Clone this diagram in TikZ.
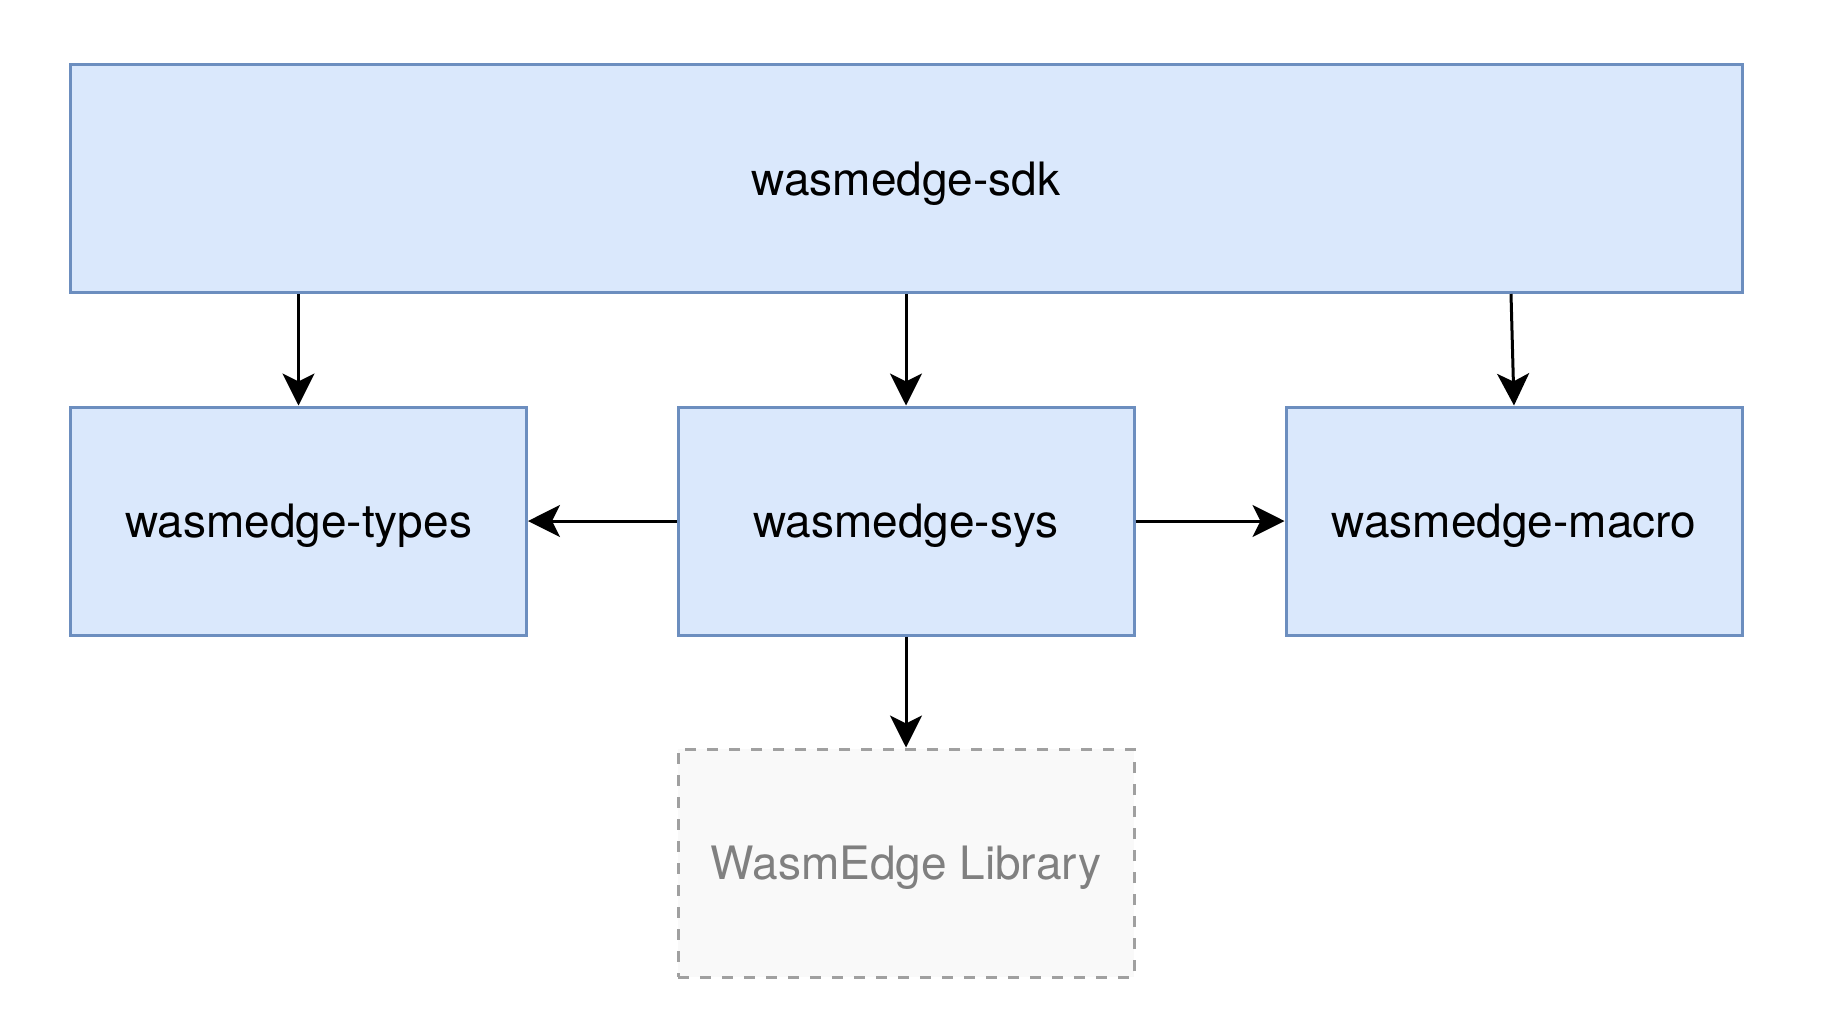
\documentclass[tikz,border=0pt]{standalone}
\usepackage{fontspec}
\setmainfont{TeX Gyre Heros}
\usepackage{xcolor}
\usepackage{tikz}
\usetikzlibrary{arrows.meta, positioning}

\definecolor{crateedge}{HTML}{6C8EBF}
\definecolor{cratefill}{HTML}{DAE8FC}
\definecolor{libedge}{HTML}{A0A0A0}
\definecolor{libfill}{HTML}{F9F9F9}
\definecolor{libtext}{HTML}{808080}

\begin{document}
\begin{tikzpicture}[
            x=0.5pt, y=-0.5pt,
            every node/.style={inner sep=0pt, text height=16.6pt, text depth=0pt,
                font=\fontsize{23}{27}\selectfont},
            cratebox/.style={draw=crateedge, fill=cratefill, line width=1.5pt,
                minimum width=228pt, minimum height=114pt},
            libbox/.style={draw=libedge, fill=libfill, text=libtext, line width=1.5pt,
                dash pattern=on 5.5pt off 5.5pt, minimum width=228pt, minimum height=114pt},
            dep/.style={-{Stealth[length=16pt, width=16pt, inset=4pt]}, line width=1.5pt},
        ]
        \useasboundingbox (0,0) rectangle (1826,1030);
        \node (sdk) at (906,178.5) [cratebox, minimum width=836pt] {wasmedge-sdk};
        \node (types) at (298.5,521) [cratebox] {wasmedge-types};
        \node (sys) at (906,521) [cratebox] {wasmedge-sys};
        \node (macro) at (1514,521) [cratebox] {wasmedge-macro};
        \node (lib) at (906,863) [libbox] {WasmEdge Library};
        \draw[dep] (sdk.south -| types.north) -- (types.north);
        \draw[dep] (sdk.south -| sys.north) -- (sys.north);
        \draw[dep] ([xshift=-1.5pt]sdk.south -| macro.north) -- (macro.north);
        \draw[dep] (sys.west) -- (types.east);
        \draw[dep] (sys.east) -- (macro.west);
        \draw[dep] (sys.south) -- (lib.north);
        \end{tikzpicture}
\end{document}
